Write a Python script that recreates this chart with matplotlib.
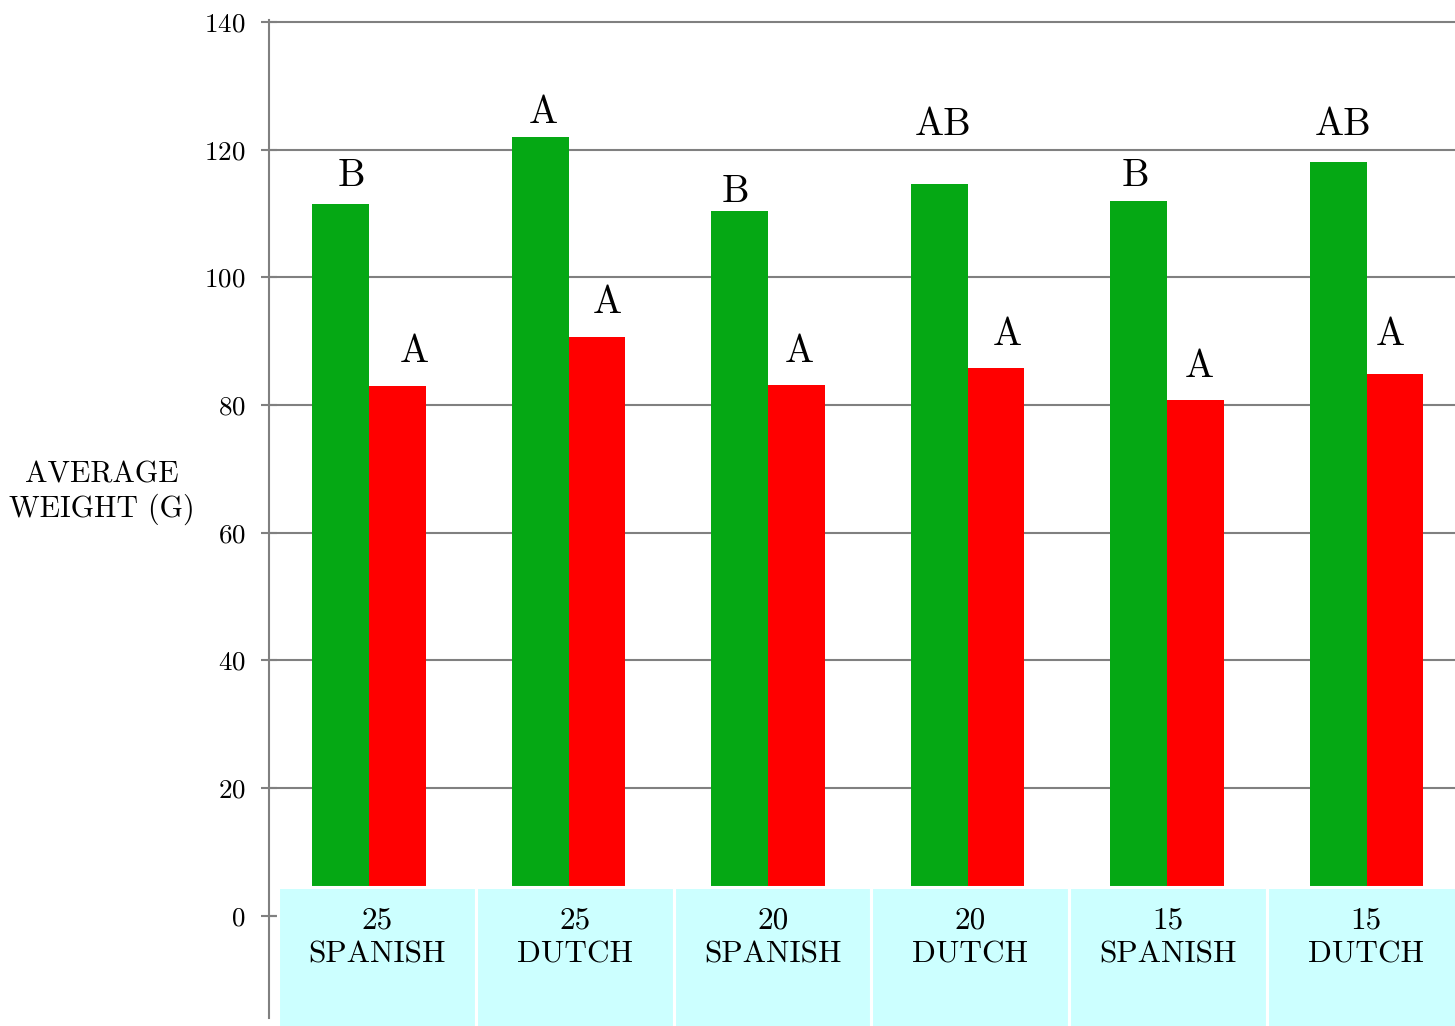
import matplotlib
matplotlib.use("Agg")
import matplotlib.pyplot as plt
from matplotlib.patches import Rectangle

plt.rcParams['font.family'] = 'cmr10'
plt.rcParams['axes.formatter.use_mathtext'] = True

# data
categories = ["25\nSPANISH", "25\nDUTCH", "20\nSPANISH", "20\nDUTCH", "15\nSPANISH", "15\nDUTCH"]
green_values = [111.5, 122.0, 110.4, 114.6, 112.0, 118.1]
red_values = [83.0, 90.7, 83.2, 85.8, 80.8, 84.9]
green_letters = ["B", "A", "B", "AB", "B", "AB"]
red_letters = ["A", "A", "A", "A", "A", "A"]
green_letter_y = [116.3, 126.3, 113.9, 124.4, 116.3, 124.4]
red_letter_y = [88.8, 96.5, 88.8, 91.4, 86.4, 91.4]
y_ticks = [0, 20, 40, 60, 80, 100, 120, 140]

# layout
bar_w = 0.287
pitch = 1.0094
offset = 0.506
green_dx = [0.053, 0.018, -0.022, 0.022, -0.015, 0.023]
red_dx = [0.085, 0.055, 0.013, 0.059, 0.018, -0.023]
letter_dy = -0.5
grey = "#808080"

fig = plt.figure(figsize=(14.55, 10.26), dpi=100)
ax = fig.add_axes([269 / 1455, 8 / 1026, 1 - 269 / 1455, (1018 - 20.1) / 1026])

n = len(categories)
for i in range(n):
    c = offset + pitch * i
    ax.bar(c - bar_w / 2, green_values[i], width=bar_w, color="#05a814", zorder=2)
    ax.bar(c + bar_w / 2, red_values[i], width=bar_w, color="#ff0000", zorder=2)
    ax.text(c - bar_w / 2 + green_dx[i], green_letter_y[i] + letter_dy, green_letters[i],
            ha="center", va="center", fontsize=28, zorder=4)
    ax.text(c + bar_w / 2 + red_dx[i], red_letter_y[i] + letter_dy, red_letters[i],
            ha="center", va="center", fontsize=28, zorder=4)

    # category boxes
    ax.add_patch(Rectangle((i + 0.048, -30), 1.0, 34.5, facecolor="#ccffff",
                           edgecolor="white", linewidth=2.2, zorder=3, clip_on=False))
    ax.text(i + 0.548, -3.4, categories[i], ha="center", va="center",
            fontsize=22.5, linespacing=1.3, zorder=4)

ax.set_xlim(0, 6)
ax.set_ylim(-16, 140.3)
ax.set_yticks(y_ticks)
ax.set_xticks([])
ax.yaxis.grid(True, color=grey, linewidth=1.5)
ax.set_axisbelow(True)
for s in ["top", "right", "bottom"]:
    ax.spines[s].set_visible(False)
ax.spines["left"].set_color(grey)
ax.spines["left"].set_linewidth(1.5)
ax.tick_params(axis="y", direction="inout", length=11.5, width=1.5, color=grey,
               labelsize=19.5, pad=11)

fig.text(102 / 1455, 1 - 493 / 1026, "AVERAGE\nWEIGHT (G)", ha="center", va="center",
         fontsize=21.5, linespacing=1.25, multialignment="center")

fig.savefig("out.png", dpi=100)
